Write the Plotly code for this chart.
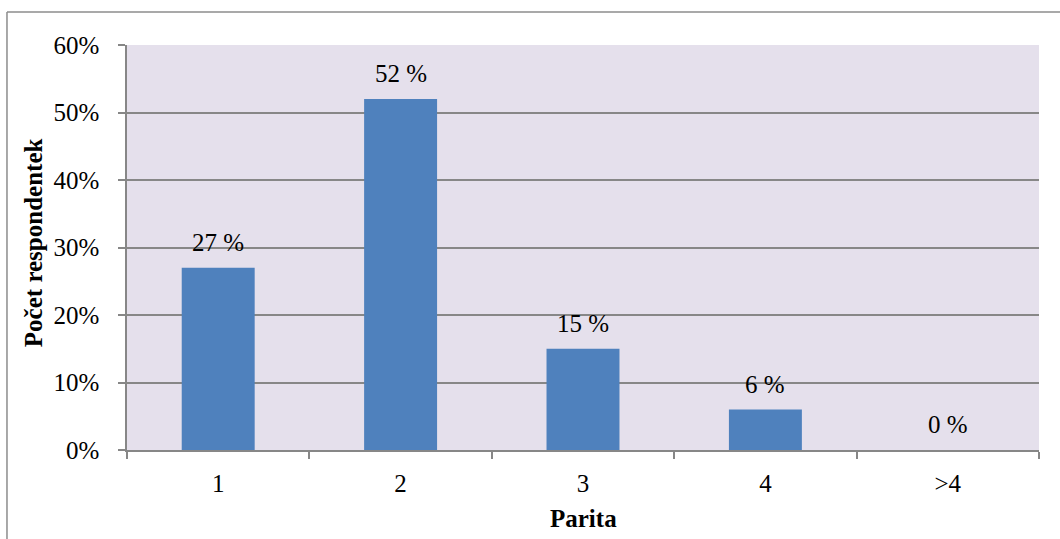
import plotly.graph_objects as go

# Parity distribution of respondents
categories = ["1", "2", "3", "4", ">4"]
shares = [27, 52, 15, 6, 0]          # percent of respondents
value_labels = [f"{v} %" for v in shares]

FONT = "Liberation Serif, Times New Roman, serif"
GRID = "#878787"
BAR = "#4F81BD"
PLOT_BG = "#E5E0EC"

fig = go.Figure()
fig.add_trace(go.Bar(
    x=categories,
    y=shares,
    marker=dict(color=BAR, line=dict(width=0)),
    hoverinfo="skip",
))

# value labels above each bar (category axis positions are 0..n-1)
for idx, (val, lab) in enumerate(zip(shares, value_labels)):
    fig.add_annotation(
        x=idx, y=val, xref="x", yref="y",
        text=lab, showarrow=False,
        yanchor="bottom", yshift=10,
        font=dict(family=FONT, size=25, color="#000000"),
    )

# axis titles
fig.add_annotation(
    x=-0.1025, y=0.512, xref="paper", yref="paper",
    text="<b>Počet respondentek</b>", showarrow=False, textangle=-90,
    xanchor="center", yanchor="middle",
    font=dict(family=FONT, size=25, color="#000000"),
)
fig.add_annotation(
    x=0.5, y=-0.170, xref="paper", yref="paper",
    text="<b>Parita</b>", showarrow=False,
    xanchor="center", yanchor="middle",
    font=dict(family=FONT, size=25, color="#000000"),
)

# chart frame (left and top edges, running off the page)
fig.add_shape(type="line", xref="paper", yref="paper",
              x0=-0.1316, x1=-0.1316, y0=1.0815, y1=-0.25,
              line=dict(color="#8C8C8C", width=1.5))
fig.add_shape(type="line", xref="paper", yref="paper",
              x0=-0.1316, x1=1.04, y0=1.0815, y1=1.0815,
              line=dict(color="#8C8C8C", width=1.5))

fig.update_layout(
    width=1060, height=539,
    margin=dict(l=127, r=21, t=45, b=89),
    paper_bgcolor="#FFFFFF",
    plot_bgcolor=PLOT_BG,
    bargap=0.6,
    showlegend=False,
    font=dict(family=FONT, size=25, color="#000000"),
)
fig.update_xaxes(
    type="category",
    tickson="boundaries",
    ticks="outside", ticklen=7, tickwidth=1.5, tickcolor=GRID,
    showline=True, linecolor=GRID, linewidth=1.5,
    showgrid=False,
    ticklabelstandoff=10,
    tickfont=dict(family=FONT, size=25, color="#000000"),
)
fig.update_yaxes(
    range=[0, 60],
    tickvals=[0, 10, 20, 30, 40, 50, 60],
    ticktext=["0%", "10%", "20%", "30%", "40%", "50%", "60%"],
    ticks="outside", ticklen=7, tickwidth=1.5, tickcolor=GRID,
    showline=True, linecolor=GRID, linewidth=1.5,
    showgrid=True, gridcolor=GRID, gridwidth=1.5,
    zeroline=False,
    ticklabelstandoff=14,
    tickfont=dict(family=FONT, size=25, color="#000000"),
)

fig.write_html("out.html")
